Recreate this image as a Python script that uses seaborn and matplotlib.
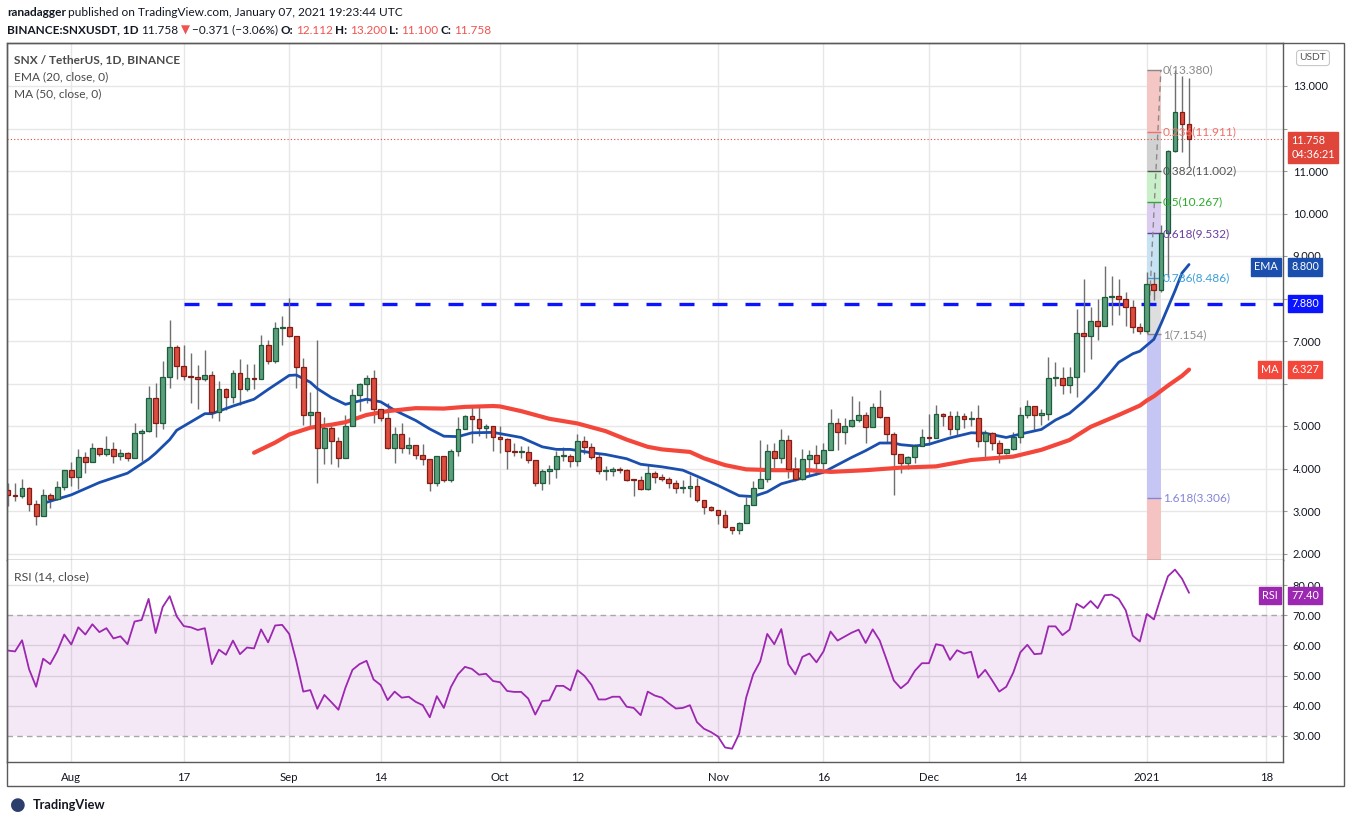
import numpy as np
import pandas as pd
import seaborn as sns
import matplotlib
matplotlib.use('Agg')
import matplotlib.pyplot as plt
import matplotlib.dates as mdates
from matplotlib.patches import Rectangle

# daily candles, 2020-07-23 .. 2021-01-07
first_day = '2020-07-23'
opens = [3.49, 3.37, 3.36, 3.55, 3.17, 2.88, 3.38, 3.28, 3.56, 3.97,
         3.80, 4.28, 4.15, 4.49, 4.35, 4.47, 4.29, 4.37, 4.25, 4.84,
         4.89, 5.67, 5.08, 6.16, 6.87, 6.42, 6.18, 6.16, 6.11, 6.19,
         5.33, 5.86, 5.69, 6.25, 5.88, 6.14, 6.11, 6.90, 6.53, 7.31,
         7.34, 7.12, 6.40, 5.27, 5.34, 4.49, 4.96, 4.65, 4.25, 5.00,
         5.74, 6.00, 6.14, 5.41, 5.20, 4.49, 4.82, 4.49, 4.56, 4.31,
         4.22, 3.65, 4.30, 3.72, 4.41, 4.93, 5.24, 5.17, 4.96, 4.99,
         4.75, 4.70, 4.42, 4.39, 4.40, 4.21, 3.65, 3.95, 3.98, 4.29,
         4.30, 4.17, 4.64, 4.51, 4.27, 3.94, 3.95, 3.98, 3.96, 3.73,
         3.72, 3.52, 3.89, 3.79, 3.76, 3.65, 3.53, 3.55, 3.58, 3.25,
         3.10, 3.02, 2.90, 2.63, 2.56, 2.72, 3.15, 3.53, 3.76, 4.41,
         4.24, 4.66, 4.00, 3.76, 4.22, 4.31, 4.12, 4.43, 5.06, 4.86,
         5.00, 5.14, 5.25, 4.98, 5.44, 5.22, 4.82, 4.33, 4.12, 4.26,
         4.53, 4.73, 4.72, 5.28, 5.23, 4.94, 5.23, 5.16, 5.20, 4.65,
         4.84, 4.61, 4.36, 4.45, 4.75, 5.26, 5.47, 5.27, 5.29, 6.12,
         6.14, 5.96, 6.16, 7.20, 7.12, 7.48, 7.35, 8.03, 8.07, 8.00,
         7.81, 7.32, 7.23, 8.35, 8.20, 9.53, 11.47, 12.38, 12.112]
highs = [3.65, 3.65, 3.75, 3.57, 3.25, 3.51, 3.42, 3.70, 3.97, 4.15,
         4.45, 4.39, 4.59, 4.49, 4.76, 4.63, 4.47, 4.40, 5.06, 4.92,
         5.93, 6.02, 6.53, 7.49, 6.90, 6.90, 6.71, 6.43, 6.78, 6.29,
         6.07, 5.90, 6.31, 6.58, 6.47, 6.45, 7.13, 7.02, 7.45, 7.59,
         8.02, 7.12, 6.61, 5.81, 7.02, 5.22, 5.08, 4.73, 5.27, 5.88,
         6.02, 6.19, 6.31, 5.41, 5.53, 4.98, 5.06, 4.75, 4.56, 4.57,
         4.22, 4.30, 4.30, 4.45, 5.22, 5.27, 5.49, 5.49, 5.05, 5.01,
         5.01, 4.72, 4.60, 4.53, 4.53, 4.21, 3.99, 4.09, 4.41, 4.51,
         4.35, 4.82, 4.76, 4.60, 4.33, 4.05, 4.04, 4.04, 4.00, 3.74,
         3.82, 4.09, 3.95, 3.87, 3.80, 3.73, 3.73, 3.84, 3.78, 3.25,
         3.12, 3.02, 3.02, 2.63, 2.75, 3.32, 3.71, 4.68, 4.57, 4.60,
         4.94, 4.78, 4.26, 4.45, 4.43, 4.56, 4.59, 5.41, 5.18, 5.18,
         5.71, 5.58, 5.33, 5.55, 5.84, 5.22, 4.86, 4.33, 4.29, 4.57,
         4.94, 5.29, 5.49, 5.31, 5.36, 5.36, 5.30, 5.36, 5.49, 4.91,
         4.87, 4.67, 4.45, 4.87, 5.45, 5.61, 5.47, 5.39, 6.62, 6.50,
         6.38, 6.38, 7.75, 8.47, 7.79, 7.98, 8.76, 8.53, 8.45, 8.15,
         7.96, 7.42, 8.63, 8.63, 9.73, 11.49, 13.38, 13.24, 13.20]
lows = [3.12, 3.24, 3.30, 3.00, 2.66, 2.88, 3.06, 3.27, 3.49, 3.59,
        3.51, 3.90, 4.15, 4.29, 4.29, 4.14, 4.19, 4.18, 4.25, 4.18,
        4.86, 4.75, 4.92, 5.90, 6.10, 6.08, 5.53, 5.41, 6.06, 5.20,
        5.12, 5.38, 5.55, 5.49, 5.82, 5.88, 6.10, 6.47, 6.49, 6.90,
        7.10, 5.90, 5.02, 4.96, 3.67, 4.11, 4.10, 4.04, 4.25, 5.00,
        5.35, 5.55, 5.08, 5.12, 4.47, 4.14, 4.37, 4.33, 4.22, 4.09,
        3.47, 3.59, 3.68, 3.68, 4.29, 4.92, 4.61, 4.76, 4.72, 4.41,
        4.37, 3.99, 4.29, 4.25, 4.13, 3.58, 3.49, 3.64, 3.78, 4.17,
        4.03, 4.07, 4.35, 4.23, 3.86, 3.73, 3.82, 3.90, 3.70, 3.35,
        3.49, 3.50, 3.66, 3.70, 3.55, 3.43, 3.43, 3.33, 3.22, 2.94,
        3.00, 2.69, 2.61, 2.47, 2.47, 2.72, 3.15, 3.53, 3.69, 3.95,
        4.12, 3.78, 3.70, 3.73, 3.84, 3.84, 4.00, 4.43, 4.43, 4.57,
        4.98, 5.10, 4.60, 4.98, 5.18, 4.59, 3.37, 3.90, 4.00, 4.12,
        4.53, 4.55, 4.72, 5.00, 4.78, 4.78, 4.95, 5.00, 4.51, 4.28,
        4.43, 4.12, 4.34, 4.43, 4.59, 5.18, 4.91, 5.02, 5.14, 5.93,
        5.75, 5.77, 5.69, 6.28, 6.57, 7.02, 7.35, 7.38, 7.61, 7.36,
        7.18, 7.154, 7.18, 7.96, 8.16, 8.51, 11.45, 11.45, 11.10]
closes = opens[1:] + [11.758]

ema_dates = ['2020-07-28', '2020-08-01', '2020-08-05', '2020-08-09', '2020-08-12',
             '2020-08-13', '2020-08-15', '2020-08-16', '2020-08-20', '2020-08-21',
             '2020-08-24', '2020-08-27', '2020-08-29', '2020-09-01', '2020-09-02',
             '2020-09-04', '2020-09-05', '2020-09-07', '2020-09-09', '2020-09-12',
             '2020-09-14', '2020-09-16', '2020-09-19', '2020-09-21', '2020-09-23',
             '2020-09-25', '2020-09-27', '2020-09-30', '2020-10-04', '2020-10-07',
             '2020-10-09', '2020-10-11', '2020-10-14', '2020-10-16', '2020-10-19',
             '2020-10-21', '2020-10-24', '2020-10-27', '2020-10-29', '2020-11-01',
             '2020-11-04', '2020-11-06', '2020-11-08', '2020-11-10', '2020-11-12',
             '2020-11-16', '2020-11-17', '2020-11-20', '2020-11-22', '2020-11-24',
             '2020-11-26', '2020-11-27', '2020-11-29', '2020-12-01', '2020-12-04',
             '2020-12-07', '2020-12-09', '2020-12-12', '2020-12-14', '2020-12-17',
             '2020-12-19', '2020-12-21', '2020-12-23', '2020-12-25', '2020-12-26',
             '2020-12-28', '2020-12-30', '2020-12-31', '2021-01-02', '2021-01-03',
             '2021-01-05', '2021-01-06', '2021-01-07']
ema_values = [3.18, 3.38, 3.67, 3.89, 4.22, 4.36, 4.68, 4.90, 5.29, 5.29,
              5.47, 5.63, 5.86, 6.19, 6.20, 6.03, 5.88, 5.67, 5.51, 5.63,
              5.57, 5.37, 5.13, 4.93, 4.76, 4.75, 4.84, 4.85, 4.73, 4.51,
              4.45, 4.45, 4.37, 4.33, 4.23, 4.10, 4.04, 3.96, 3.82, 3.60,
              3.36, 3.34, 3.45, 3.64, 3.73, 3.91, 4.00, 4.26, 4.42, 4.60,
              4.60, 4.56, 4.53, 4.57, 4.72, 4.84, 4.83, 4.73, 4.81, 4.92,
              5.14, 5.30, 5.58, 5.90, 6.10, 6.50, 6.70, 6.76, 7.04, 7.40,
              8.18, 8.60, 8.80]

ma_dates = ['2020-08-27', '2020-08-30', '2020-09-01', '2020-09-04', '2020-09-07',
            '2020-09-09', '2020-09-12', '2020-09-15', '2020-09-19', '2020-09-23',
            '2020-09-26', '2020-09-30', '2020-10-01', '2020-10-04', '2020-10-08',
            '2020-10-12', '2020-10-16', '2020-10-19', '2020-10-22', '2020-10-24',
            '2020-10-28', '2020-10-30', '2020-11-02', '2020-11-05', '2020-11-09',
            '2020-11-14', '2020-11-17', '2020-11-22', '2020-11-27', '2020-12-02',
            '2020-12-05', '2020-12-07', '2020-12-10', '2020-12-13', '2020-12-17',
            '2020-12-21', '2020-12-24', '2020-12-28', '2020-12-31', '2021-01-01',
            '2021-01-02', '2021-01-04', '2021-01-06', '2021-01-07']
ma_values = [4.37, 4.61, 4.80, 4.96, 5.03, 5.09, 5.26, 5.35, 5.42, 5.41,
             5.45, 5.47, 5.46, 5.35, 5.17, 5.06, 4.88, 4.68, 4.51, 4.45,
             4.39, 4.24, 4.08, 3.98, 3.96, 3.96, 3.92, 3.96, 4.02, 4.05,
             4.14, 4.20, 4.24, 4.28, 4.44, 4.67, 4.98, 5.26, 5.48, 5.60,
             5.70, 5.95, 6.18, 6.327]

rsi_values = [58.3, 58.0, 61.7, 52.1, 46.3, 55.6, 53.8, 58.0, 63.6, 60.3,
              66.0, 63.6, 67.0, 64.4, 65.7, 62.3, 63.0, 60.4, 67.9, 68.4,
              75.4, 64.1, 72.7, 76.3, 69.6, 66.4, 66.0, 65.1, 65.7, 53.8,
              58.6, 56.9, 61.6, 57.1, 59.3, 59.0, 65.3, 61.0, 66.6, 66.8,
              63.8, 54.9, 44.7, 45.2, 39.0, 43.6, 41.2, 38.7, 46.0, 51.9,
              53.8, 54.9, 48.7, 46.9, 41.9, 44.7, 42.7, 43.0, 41.3, 40.2,
              36.2, 43.2, 39.3, 46.2, 50.4, 52.9, 52.2, 50.3, 50.6, 48.2,
              47.8, 44.9, 44.6, 44.6, 42.4, 37.1, 41.6, 41.8, 46.6, 46.6,
              45.1, 51.8, 49.9, 46.9, 42.1, 42.1, 43.0, 43.0, 39.7, 39.3,
              36.9, 44.7, 43.4, 42.7, 40.8, 39.1, 39.3, 40.2, 34.6, 32.4,
              31.3, 29.8, 26.2, 25.8, 30.7, 42.7, 50.4, 54.7, 63.8, 60.4,
              65.4, 53.8, 50.4, 56.2, 57.3, 54.4, 58.0, 64.6, 61.6, 62.9,
              64.2, 65.2, 60.8, 65.3, 61.6, 55.1, 48.4, 45.8, 47.7, 51.6,
              54.1, 54.1, 60.4, 59.9, 55.2, 58.4, 57.3, 57.9, 49.3, 51.9,
              48.4, 44.7, 46.3, 51.0, 57.7, 60.2, 57.1, 57.3, 66.3, 66.3,
              63.4, 65.2, 73.8, 72.4, 74.7, 72.3, 76.6, 76.8, 75.4, 71.6,
              63.2, 61.3, 70.4, 68.6, 76.0, 82.9, 85.1, 82.1, 77.4]

support_level = 7.880
support_from = '2020-08-17'
fib_low, fib_high = 7.154, 13.380
fib_start, fib_end = '2021-01-01', '2021-01-03'
fib_levels = [0, 0.236, 0.382, 0.5, 0.618, 0.786, 1, 1.618]
fib_line_colors = ['#888888', '#f0706a', '#555555', '#2eaa2e', '#6a3fa0',
                   '#3a9fd8', '#888888', '#8585d8']
fib_zone_colors = ['#f4c6c4', '#d2d2d2', '#c8efc8', '#dacdef', '#c7e2f3',
                   '#dedede', '#c6c6f4', '#f5c4c2']
x_ticks = ['2020-08-01', '2020-08-17', '2020-09-01', '2020-09-14', '2020-10-01',
           '2020-10-12', '2020-11-01', '2020-11-16', '2020-12-01', '2020-12-14',
           '2021-01-01', '2021-01-18']
x_tick_labels = ['Aug', '17', 'Sep', '14', 'Oct', '12', 'Nov', '16', 'Dec', '14',
                 '2021', '18']
price_ticks = list(range(2, 14))
hidden_price_ticks = [6, 8, 12]
rsi_ticks = [30, 40, 50, 60, 70, 80]

W, H = 1351, 824
UP_FILL, UP_EDGE = '#5b9f7d', '#1d5c3c'
DN_FILL, DN_EDGE = '#db4d3e', '#821c14'
WICK = '#6f6f6f'
GRID = '#e7e7e7'
TXT = '#131722'

sns.set_theme(style='white')
plt.rcParams['font.family'] = ['Lato', 'DejaVu Sans']

fig = plt.figure(figsize=(W / 100, H / 100), dpi=100)
fig.patch.set_facecolor('white')


def fx(px):
    return px / W


def fy(py):
    return 1 - py / H


ax = fig.add_axes([fx(7), fy(560), fx(1283 - 7), (560 - 43) / H])
ax_rsi = fig.add_axes([fx(7), fy(762), fx(1283 - 7), (762 - 560) / H])

days = pd.date_range(first_day, periods=len(opens), freq='D')
xd = mdates.date2num(days)
o, hi, lo, c = map(np.array, (opens, highs, lows, closes))
up = c >= o

px_per_day = 7.03
x_left = xd[0] - 1 / px_per_day
x_right = xd[0] + (1283 - 8) / px_per_day
tick_x = mdates.date2num(pd.to_datetime(x_ticks))

# ---- price pane ----
for t in tick_x:
    ax.axvline(t, color=GRID, lw=1, zorder=0)
for p in price_ticks:
    ax.axhline(p, color=GRID, lw=1, zorder=0)

# fib retracement zones
fx0, fx1 = mdates.date2num(pd.to_datetime([fib_start, fib_end]))
rng = fib_high - fib_low
fib_prices = [fib_high - lv * rng for lv in fib_levels]
zone_edges = fib_prices + [fib_high - 2.618 * rng]
for k, col in enumerate(fib_zone_colors):
    ax.add_patch(Rectangle((fx0, zone_edges[k + 1]), fx1 - fx0,
                           zone_edges[k] - zone_edges[k + 1],
                           facecolor=col, edgecolor='none', zorder=1))
for lv, pr, col in zip(fib_levels, fib_prices, fib_line_colors):
    ax.hlines(pr, fx0, fx1, color=col, lw=1, zorder=2)
    ax.text(fx1 + 0.25, pr, f'{lv:g}({pr:.3f})', color=col, fontsize=8.6,
            va='center', ha='left', zorder=6)
ax.plot([fx0 + 0.15, fx1], [fib_low, fib_high], color='#8a8a8a', lw=1,
        ls=(0, (4, 3)), zorder=2)

# support line
ax.hlines(support_level, mdates.date2num(pd.Timestamp(support_from)), x_right,
          color='#0a14ff', lw=2.4, linestyles=[(0, (4.5, 5.4))], zorder=3)

# current price dotted line
ax.axhline(closes[-1], color='#e0453a', lw=0.8, ls=(0, (1, 2)), zorder=3)

# candles
ax.vlines(xd, lo, hi, color=WICK, lw=1, zorder=4)
body_low = np.minimum(o, c)
body_h = np.maximum(np.abs(c - o), 0.025)
ax.bar(xd, body_h, bottom=body_low, width=0.68,
       color=np.where(up, UP_FILL, DN_FILL),
       edgecolor=np.where(up, UP_EDGE, DN_EDGE), linewidth=0.9, zorder=5)

# moving averages
sns.lineplot(x=mdates.date2num(pd.to_datetime(ema_dates)), y=ema_values, ax=ax,
             color='#1b4fae', lw=2.0, sort=False, estimator=None, zorder=4)
sns.lineplot(x=mdates.date2num(pd.to_datetime(ma_dates)), y=ma_values, ax=ax,
             color='#f4473b', lw=3.0, sort=False, estimator=None, zorder=4)

ax.set_xlim(x_left, x_right)
ax.set_ylim(13 - (560 - 86) / 42.5, 13 + 43 / 42.5)
ax.yaxis.tick_right()
ax.set_yticks(price_ticks)
ax.set_yticklabels(['' if p in hidden_price_ticks else f'{p:.3f}'
                    for p in price_ticks])
ax.tick_params(axis='y', length=3, width=0.8, color='#9a9a9a', pad=4,
               labelsize=8.0, labelcolor=TXT)
ax.set_xticks([])
for s in ax.spines.values():
    s.set_color('#5a5a5a')
    s.set_linewidth(1)


def tag(axis, value, text, color, side='right', fs=7.8, dy=0):
    if side == 'right':
        axis.annotate(text, xy=(1, value), xycoords=('axes fraction', 'data'),
                      xytext=(6, dy), textcoords='offset points', ha='left',
                      va='center', color='white', fontsize=fs, zorder=10,
                      annotation_clip=False, linespacing=1.35,
                      bbox=dict(boxstyle='square,pad=0.28', fc=color, ec=color))
    else:
        axis.annotate(text, xy=(1, value), xycoords=('axes fraction', 'data'),
                      xytext=(-3.5, dy), textcoords='offset points', ha='right',
                      va='center', color='white', fontsize=fs, zorder=10,
                      annotation_clip=False,
                      bbox=dict(boxstyle='square,pad=0.28', fc=color, ec=color))


tag(ax, closes[-1] - 0.2, f'{closes[-1]:.3f}\n04:36:21', '#e0453a')
tag(ax, ema_values[-1], f'{ema_values[-1]:.3f}', '#1b4fae', dy=-1.8)
tag(ax, ema_values[-1], 'EMA', '#1b4fae', side='left', dy=-1.8)
tag(ax, support_level, f'{support_level:.3f}', '#0a14ff')
tag(ax, ma_values[-1], f'{ma_values[-1]:.3f}', '#f4473b')
tag(ax, ma_values[-1], 'MA', '#f4473b', side='left')

# legend texts in the pane
fig.text(fx(14), fy(60), 'SNX / TetherUS, 1D, BINANCE', fontsize=8.6,
         fontweight='bold', color='#4a4a4a', va='center')
fig.text(fx(14), fy(77), 'EMA (20, close, 0)', fontsize=8.6, color='#4a4a4a',
         va='center')
fig.text(fx(14), fy(94), 'MA (50, close, 0)', fontsize=8.6, color='#4a4a4a',
         va='center')
fig.text(fx(1313), fy(58), 'USDT', fontsize=7.4, color='#555555', ha='center',
         va='center', bbox=dict(boxstyle='round,pad=0.3', fc='white',
                                ec='#c8c8c8', lw=0.8))

# ---- RSI pane ----
for t in tick_x:
    ax_rsi.axvline(t, color=GRID, lw=1, zorder=0)
for v in [40, 50, 60, 80]:
    ax_rsi.axhline(v, color='#e2e2e2', lw=1, zorder=0)
ax_rsi.axhspan(30, 70, color='#9c27b0', alpha=0.1, lw=0, zorder=1)
for v in [30, 70]:
    ax_rsi.axhline(v, color='#a8a8a8', lw=1, ls=(0, (4, 3)), zorder=2)
sns.lineplot(x=xd, y=rsi_values, ax=ax_rsi, color='#9c27b0', lw=1.3,
             sort=False, estimator=None, zorder=3)
ax_rsi.set_xlim(x_left, x_right)
ax_rsi.set_ylim(30 - 26 / 3.02, 80 + 25 / 3.02)
ax_rsi.yaxis.tick_right()
ax_rsi.set_yticks(rsi_ticks)
ax_rsi.set_yticklabels([f'{v:.2f}' for v in rsi_ticks])
ax_rsi.tick_params(axis='y', length=3, width=0.8, color='#9a9a9a', pad=4,
                   labelsize=8.0, labelcolor=TXT)
ax_rsi.set_xticks(tick_x)
ax_rsi.set_xticklabels(x_tick_labels)
ax_rsi.tick_params(axis='x', length=0, pad=7, labelsize=8.2, labelcolor=TXT)
for s in ax_rsi.spines.values():
    s.set_color('#5a5a5a')
    s.set_linewidth(1)
ax_rsi.spines['top'].set_visible(False)
tag(ax_rsi, rsi_values[-1], f'{rsi_values[-1]:.2f}', '#9c27b0', dy=-2.2)
tag(ax_rsi, rsi_values[-1], 'RSI', '#9c27b0', side='left', dy=-2.2)
fig.text(fx(14), fy(577), 'RSI (14, close)', fontsize=8.8, color='#4a4a4a',
         va='center')

# outer frame round the price scale and time scale
fig.patches.append(Rectangle((fx(7), fy(786)), fx(1344 - 7), (786 - 43) / H,
                             transform=fig.transFigure, fill=False,
                             ec='#5a5a5a', lw=1))

# ---- header ----
renderer = fig.canvas.get_renderer()


def run_text(x_px, y_px, pieces, fs=8.5, gap=2.5):
    for txt, col, wt in pieces:
        t = fig.text(fx(x_px), fy(y_px), txt, fontsize=fs, color=col,
                     fontweight=wt, va='center', ha='left')
        bb = t.get_window_extent(renderer)
        x_px = bb.x1 + gap


RED = '#f05350'
run_text(7, 12, [('ranadagger', '#131722', 'bold'),
                 ('published on TradingView.com, January 07, 2021 19:23:44 UTC',
                  '#131722', 'normal')], fs=8.6)
run_text(7, 30, [('BINANCE:SNXUSDT, 1D', '#131722', 'bold'),
                 ('11.758', '#131722', 'normal'),
                 ('\u25bc', RED, 'normal'),
                 ('\u22120.371 (\u22123.06%)', '#131722', 'normal'),
                 ('O:', '#131722', 'bold'), ('12.112', RED, 'normal'),
                 ('H:', '#131722', 'bold'), ('13.200', RED, 'normal'),
                 ('L:', '#131722', 'bold'), ('11.100', RED, 'normal'),
                 ('C:', '#131722', 'bold'), ('11.758', RED, 'normal')])

# footer logo
fig.text(fx(18), fy(805), '\u25cf', fontsize=13, color='#2c3e6b', ha='center',
         va='center', family='DejaVu Sans')
fig.text(fx(33), fy(805), 'TradingView', fontsize=9.2, color='#131722',
         fontweight='bold', va='center')

fig.savefig('out.png', dpi=100, facecolor='white')
